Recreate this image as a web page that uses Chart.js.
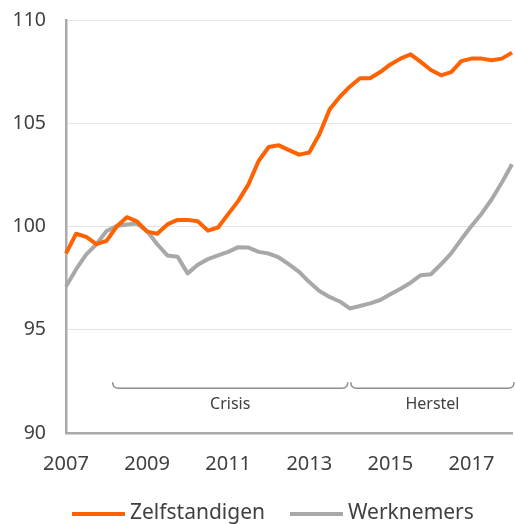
<!DOCTYPE html>
<html>
<head>
<meta charset="utf-8">
<script src="https://cdn.jsdelivr.net/npm/chart.js@4.4.0/dist/chart.umd.min.js"></script>
<style>
  html, body { margin: 0; padding: 0; background: #fff; }
  #wrap { width: 515px; height: 524px; }
</style>
</head>
<body>
<div id="wrap"><canvas id="canvasL"></canvas></div>
<script>
'use strict';

// quarters 2007Q1 .. 2018Q1
var quarters = [];
for (let y = 2007; y <= 2018; y++) {
    for (let q = 1; q <= 4; q++) {
        if (y === 2018 && q > 1) break;
        quarters.push(y + 'Q' + q);
    }
}
var tickYears = ['2007', '2009', '2011', '2013', '2015', '2017'];

var zelfstandigen = [
    98.7, 99.65, 99.5, 99.15, 99.3, 100.0, 100.45, 100.25, 99.75, 99.65,
    100.1, 100.32, 100.32, 100.25, 99.8, 99.95, 100.6, 101.24, 102.04, 103.17,
    103.85, 103.93, 103.7, 103.48, 103.58, 104.47, 105.66, 106.27, 106.77, 107.18,
    107.18, 107.48, 107.85, 108.13, 108.34, 107.97, 107.58, 107.32, 107.48, 108.01,
    108.13, 108.13, 108.05, 108.13, 108.42
];
var werknemers = [
    97.09, 97.93, 98.65, 99.14, 99.78, 100.02, 100.1, 100.14, 99.78, 99.14,
    98.6, 98.54, 97.73, 98.15, 98.42, 98.6, 98.77, 99.0, 98.98, 98.77,
    98.69, 98.5, 98.17, 97.8, 97.31, 96.88, 96.59, 96.37, 96.03, 96.15,
    96.28, 96.44, 96.72, 96.99, 97.28, 97.64, 97.69, 98.17, 98.7, 99.38,
    100.02, 100.62, 101.32, 102.13, 103.01
];
var seriesNames = ['Zelfstandigen', 'Werknemers'];
var seriesColors = ['#ff6200', '#a8a8a8'];

// periods drawn as brackets under the lines (quarter index from/to)
var periodNames = ['Crisis', 'Herstel'];
var periodFrom = [4.6, 28.1];
var periodTo = [27.8, 44.2];

const textColor = '#404040';
const fontFam = "'Noto Sans', 'Open Sans', sans-serif";

const bracketPlugin = {
    id: 'brackets',
    afterDatasetsDraw(chart) {
        const ctx = chart.ctx;
        const xs = chart.scales.x;
        const ys = chart.scales.y;
        const yLine = ys.getPixelForValue(92.17);
        const h = 6, r = 4;
        ctx.save();
        ctx.strokeStyle = '#8c8c8c';
        ctx.lineWidth = 1.5;
        for (let i = 0; i < periodNames.length; i++) {
            const x0 = xs.getPixelForValue(periodFrom[i]);
            const x1 = xs.getPixelForValue(periodTo[i]);
            ctx.beginPath();
            ctx.moveTo(x0, yLine - h);
            ctx.quadraticCurveTo(x0, yLine, x0 + r + 2, yLine);
            ctx.lineTo(x1 - r - 2, yLine);
            ctx.quadraticCurveTo(x1, yLine, x1, yLine - h);
            ctx.stroke();
            ctx.fillStyle = textColor;
            ctx.font = '16px ' + fontFam;
            ctx.textAlign = 'center';
            ctx.textBaseline = 'middle';
            ctx.fillText(periodNames[i], (x0 + x1) / 2, ys.getPixelForValue(91.38));
        }
        ctx.restore();
    }
};

// legend drawn by hand: line sample + name, left to right
const legendPlugin = {
    id: 'lineLegend',
    afterDraw(chart) {
        const ctx = chart.ctx;
        const y = 514;
        let x = 72;
        ctx.save();
        ctx.font = '21px ' + fontFam;
        ctx.textBaseline = 'middle';
        ctx.textAlign = 'left';
        for (let i = 0; i < seriesNames.length; i++) {
            ctx.strokeStyle = seriesColors[i];
            ctx.lineWidth = 4;
            ctx.beginPath();
            ctx.moveTo(x, y);
            ctx.lineTo(x + 53, y);
            ctx.stroke();
            x += 58;
            ctx.fillStyle = textColor;
            ctx.fillText(seriesNames[i], x, y - 1);
            x += ctx.measureText(seriesNames[i]).width + 25;
        }
        ctx.restore();
    }
};

const config = {
    type: 'line',
    data: {
        labels: quarters,
        datasets: [
            { label: seriesNames[0], data: zelfstandigen, borderColor: seriesColors[0], backgroundColor: seriesColors[0] },
            { label: seriesNames[1], data: werknemers, borderColor: seriesColors[1], backgroundColor: seriesColors[1] }
        ]
    },
    options: {
        responsive: true,
        maintainAspectRatio: false,
        animation: false,
        layout: { padding: { top: 20, right: 3, left: 0, bottom: 41 } },
        elements: {
            point: { radius: 0 },
            line: { borderWidth: 4, tension: 0, borderJoinStyle: 'round' }
        },
        scales: {
            x: {
                afterFit: function (s) { s.height = 50; s.paddingLeft = 0; s.paddingRight = 0; },
                grid: { display: false, drawTicks: false },
                border: { display: true, color: '#aaaaaa', width: 2.5 },
                ticks: {
                    autoSkip: false,
                    maxRotation: 0,
                    padding: 19,
                    color: textColor,
                    font: { size: 20, family: fontFam },
                    callback: function (v, i) {
                        const lab = quarters[i];
                        const yr = lab.slice(0, 4);
                        return (lab.endsWith('Q1') && tickYears.includes(yr)) ? yr : '';
                    }
                }
            },
            y: {
                min: 90,
                max: 110,
                afterFit: function (s) { s.width = 66; s.paddingTop = 0; s.paddingBottom = 0; },
                grid: { color: '#e3e3e3', lineWidth: 1, drawTicks: false },
                border: { display: true, color: '#aaaaaa', width: 2.5 },
                ticks: {
                    stepSize: 5,
                    padding: 20,
                    color: textColor,
                    font: { size: 19.5, family: fontFam }
                }
            }
        },
        plugins: {
            legend: { display: false },
            tooltip: { enabled: false }
        }
    },
    plugins: [bracketPlugin, legendPlugin]
};

const ctxL = document.querySelector('#canvasL').getContext('2d');
let chartL = new Chart(ctxL, config);
</script>
</body>
</html>
